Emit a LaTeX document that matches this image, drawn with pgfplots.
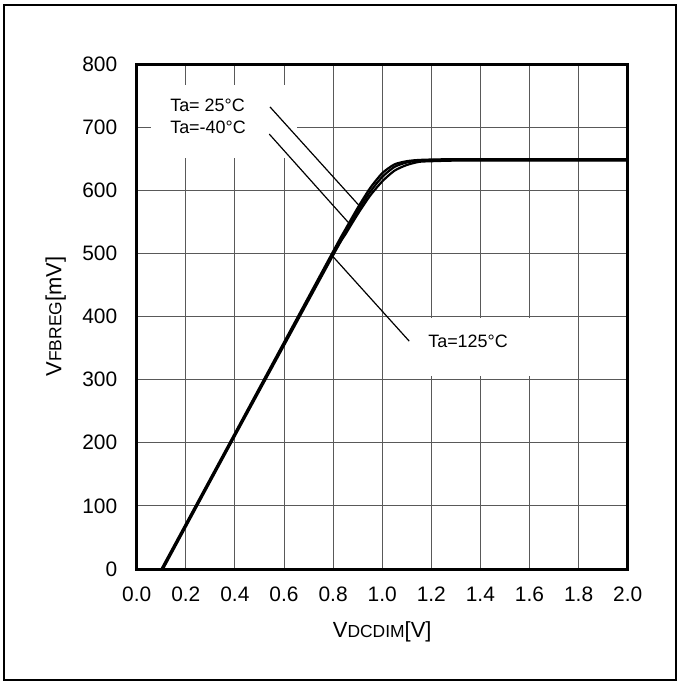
\documentclass[border=0pt]{standalone}
\usepackage{fontspec}
\setmainfont{Liberation Sans}
\usepackage{pgfplots}
\pgfplotsset{compat=1.18}
\begin{document}
\begin{tikzpicture}
\useasboundingbox (-136.7bp,-115bp) rectangle (543.3bp,569bp);
\draw[line width=2bp] (-132.7bp,-111bp) rectangle (539.3bp,564bp);
\begin{axis}[
  at={(0,0)}, anchor=south west,
  scale only axis, width=491bp, height=505bp,
  xmin=0, xmax=2, ymin=0, ymax=800,
  xtick={0,0.2,0.4,0.6,0.8,1.0,1.2,1.4,1.6,1.8,2.0},
  xticklabels={0.0,0.2,0.4,0.6,0.8,1.0,1.2,1.4,1.6,1.8,2.0},
  ytick={0,100,200,300,400,500,600,700,800},
  grid=major,
  major grid style={black!65, line width=0.9bp},
  major tick length=0pt,
  axis line style={line width=3bp},
  tick label style={font=\fontsize{21}{24}\selectfont},
  /pgf/number format/assume math mode=true,
  xticklabel style={yshift=-14bp, text height=15bp, text depth=0bp},
  yticklabel style={xshift=-16bp},
  xlabel={V{\fontsize{17.5}{20}\selectfont DCDIM}[V]},
  ylabel={V{\fontsize{17.5}{20}\selectfont FBREG}[mV]},
  label style={font=\fontsize{22}{24}\selectfont},
  xlabel style={at={(axis description cs:0.5,0)}, anchor=center, yshift=-63bp},
  ylabel style={at={(axis description cs:0,0.5)}, anchor=center, yshift=81bp},
]
% white boxes behind annotation text
\fill[white] (axis cs:0.06,651) rectangle (axis cs:0.654,767);
\fill[white] (axis cs:1.15,305) rectangle (axis cs:1.72,398);
% leader lines
\draw[line width=1.2bp] (axis cs:0.543,732) -- (axis cs:0.910,574);
\draw[line width=1.2bp] (axis cs:0.540,689) -- (axis cs:0.862,549);
\draw[line width=1.2bp] (axis cs:0.797,496) -- (axis cs:1.110,361);
\node[anchor=west, inner sep=0pt, font=\fontsize{18}{21}\selectfont] at (axis cs:0.136,734) {Ta= 25°C};
\node[anchor=west, inner sep=0pt, font=\fontsize{18}{21}\selectfont] at (axis cs:0.136,699) {Ta=-40°C};
\node[anchor=west, inner sep=0pt, font=\fontsize{18}{21}\selectfont] at (axis cs:1.187,361) {Ta=125°C};
% Ta = -40 C
\addplot[black, line width=2.2bp, smooth, tension=0.4] coordinates {
 (0.101,0) (0.40,215) (0.80,503) (0.85,538) (0.90,572) (0.95,603) (1.00,627) (1.05,641) (1.10,646) (1.15,648) (1.25,649) (1.50,649) (2.00,649)};
% Ta = 25 C
\addplot[black, line width=2.2bp, smooth, tension=0.4] coordinates {
 (0.104,0) (0.40,213) (0.80,500) (0.85,534) (0.90,567) (0.95,597) (1.00,621) (1.05,637) (1.10,644) (1.15,647) (1.25,648) (1.50,648) (2.00,648)};
% Ta = 125 C
\addplot[black, line width=2.2bp, smooth, tension=0.4] coordinates {
 (0.107,0) (0.40,211) (0.80,497) (0.85,530) (0.90,562) (0.95,591) (1.00,614) (1.05,631) (1.10,640) (1.15,645) (1.20,646) (1.30,647) (1.50,647) (2.00,647)};
\end{axis}
\end{tikzpicture}
\end{document}
